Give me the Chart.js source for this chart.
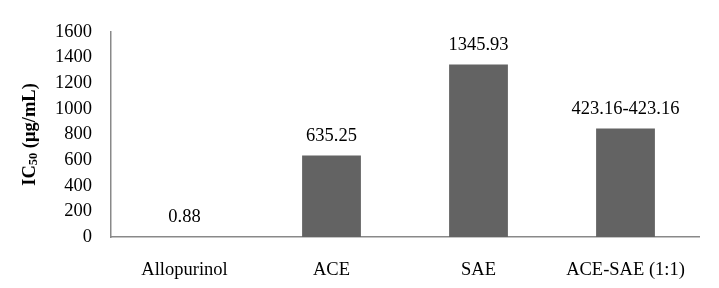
<!DOCTYPE html>
<html>
<head>
<meta charset="utf-8">
<script src="https://cdn.jsdelivr.net/npm/chart.js@4"></script>
<style>
  html, body { margin: 0; padding: 0; background: #fff; }
  #wrap { width: 719px; height: 288px; }
</style>
</head>
<body>
<div id="wrap"><canvas id="chart" width="719" height="288"></canvas></div>
<script>
const categories = ["Allopurinol", "ACE", "SAE", "ACE-SAE (1:1)"];
const ic50 = [0.88, 635.25, 1345.93, 846.32];
const valueLabels = ["0.88", "635.25", "1345.93", "423.16-423.16"];
const yTicks = [0, 200, 400, 600, 800, 1000, 1200, 1400, 1600];

const FONT = "'Liberation Serif', 'Times New Roman', serif";

// value text above each bar
const barLabels = {
  id: 'barLabels',
  afterDatasetsDraw(chart) {
    const ctx = chart.ctx;
    const meta = chart.getDatasetMeta(0);
    ctx.save();
    ctx.font = "18.5px " + FONT;
    ctx.fillStyle = "#000";
    ctx.textAlign = "center";
    ctx.textBaseline = "bottom";
    meta.data.forEach((bar, i) => {
      ctx.fillText(valueLabels[i], bar.x, bar.y - 10);
    });
    ctx.restore();
  }
};

// rotated y title with subscript
const yTitle = {
  id: 'yTitle',
  afterDraw(chart) {
    const ctx = chart.ctx;
    const a = chart.chartArea;
    ctx.save();
    ctx.translate(30, (a.top + a.bottom) / 2);
    ctx.rotate(-Math.PI / 2);
    ctx.fillStyle = "#000";
    ctx.textBaseline = "middle";
    const big = "bold 18.5px " + FONT;
    const small = "bold 12.5px " + FONT;
    const parts = [["IC", big, 0], ["50", small, 4], [" (\u03bcg/mL)", big, 0]];
    let total = 0;
    parts.forEach(p => { ctx.font = p[1]; total += ctx.measureText(p[0]).width; });
    let x = -total / 2;
    parts.forEach(p => {
      ctx.font = p[1];
      ctx.fillText(p[0], x, p[2]);
      x += ctx.measureText(p[0]).width;
    });
    ctx.restore();
  }
};

new Chart(document.getElementById('chart'), {
  type: 'bar',
  data: {
    labels: categories,
    datasets: [{
      data: ic50,
      backgroundColor: '#636363',
      categoryPercentage: 0.4,
      barPercentage: 1.0
    }]
  },
  options: {
    responsive: false,
    animation: false,
    layout: { padding: { left: 0, right: 20, top: 32, bottom: 0 } },
    plugins: { legend: { display: false }, tooltip: { enabled: false } },
    scales: {
      x: {
        grid: { display: false, drawTicks: false },
        border: { color: '#898989', width: 1.5 },
        ticks: { color: '#000', font: { family: FONT, size: 18.5 }, padding: 22, maxRotation: 0 },
        afterFit: s => { s.height = 51; }
      },
      y: {
        min: 0,
        max: 1600,
        afterBuildTicks: s => { s.ticks = yTicks.map(v => ({ value: v })); },
        grid: { display: false, drawTicks: false },
        border: { color: '#898989', width: 1.5 },
        ticks: { color: '#000', font: { family: FONT, size: 18.5 }, padding: 19, callback: v => String(v) },
        afterFit: s => { s.width = 111; }
      }
    }
  },
  plugins: [barLabels, yTitle]
});
</script>
</body>
</html>
